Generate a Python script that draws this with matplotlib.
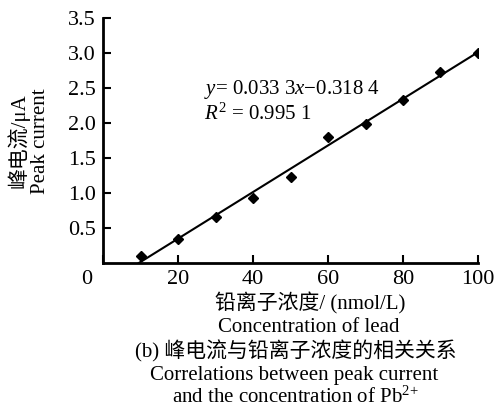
import numpy as np
import matplotlib
matplotlib.use('Agg')
import matplotlib.pyplot as plt
from matplotlib.transforms import ScaledTranslation

# ── Data ──────────────────────────────────────────────────────────────────────
conc = [10, 20, 30, 40, 50, 60, 70, 80, 90, 100]          # nmol/L
current = [0.10, 0.34, 0.65, 0.93, 1.23, 1.80, 1.99, 2.33, 2.73, 3.00]  # uA
slope, intercept, r2 = 0.0333, -0.3184, 0.9951
xticks = [0, 20, 40, 60, 80, 100]
yticks = [0.5, 1.0, 1.5, 2.0, 2.5, 3.0, 3.5]

plt.rcParams['font.family'] = ['Liberation Serif', 'Noto Sans CJK SC']
plt.rcParams['mathtext.fontset'] = 'custom'
plt.rcParams['mathtext.rm'] = 'Liberation Serif'
plt.rcParams['mathtext.it'] = 'Liberation Serif:italic'

fig = plt.figure(figsize=(4.96, 4.09), dpi=100)
ax = fig.add_axes([0.2077, 0.357, 0.756, 0.599])

# fit line (from y=0 up to x=100) + measured points
x0 = -intercept / slope
xf = np.array([x0, 100])
ax.plot(xf, slope * xf + intercept, color='black', lw=1.5, zorder=2)
ax.plot(conc, current, 'D', color='black', ms=5, zorder=3)

ax.set_xlim(0, 100)
ax.set_ylim(0, 3.5)
ax.set_xticks(xticks)
ax.set_xticklabels([str(v) for v in xticks])
ax.set_yticks(yticks)
ax.set_yticklabels([f'{v:.1f}' for v in yticks])

for sp in ('top', 'right'):
    ax.spines[sp].set_visible(False)
for sp in ('left', 'bottom'):
    ax.spines[sp].set_linewidth(2)
ax.tick_params(direction='in', length=6, width=1.5, labelsize=16, pad=5)

# the origin "0" sits left of the corner
lbl0 = ax.get_xticklabels()[0]
lbl0.set_transform(lbl0.get_transform() + ScaledTranslation(-0.16, 0, fig.dpi_scale_trans))

ax.text(27, 2.48, r'$y$= 0.033 3$x$−0.318 4', fontsize=15, va='center')
ax.text(27, 2.12, r'$R^2$ = 0.995 1', fontsize=15, va='center')

# y label (two lines)
fig.text(0.036, 0.656, '峰电流/μA', rotation=90, fontsize=15, ha='center', va='center')
fig.text(0.082, 0.656, 'Peak current', rotation=90, fontsize=15, ha='center', va='center')

# x label + caption
fig.text(0.625, 0.258, '铅离子浓度/ (nmol/L)', fontsize=15, ha='center', va='center')
fig.text(0.623, 0.200, 'Concentration of lead', fontsize=15, ha='center', va='center')
fig.text(0.597, 0.142, '(b) 峰电流与铅离子浓度的相关关系', fontsize=15, ha='center', va='center')
fig.text(0.592, 0.082, 'Correlations between peak current', fontsize=15, ha='center', va='center')
fig.text(0.595, 0.004, r'and the concentration of Pb$^{2{+}}$', fontsize=15, ha='center', va='bottom')

fig.savefig('out.png', dpi=100)
